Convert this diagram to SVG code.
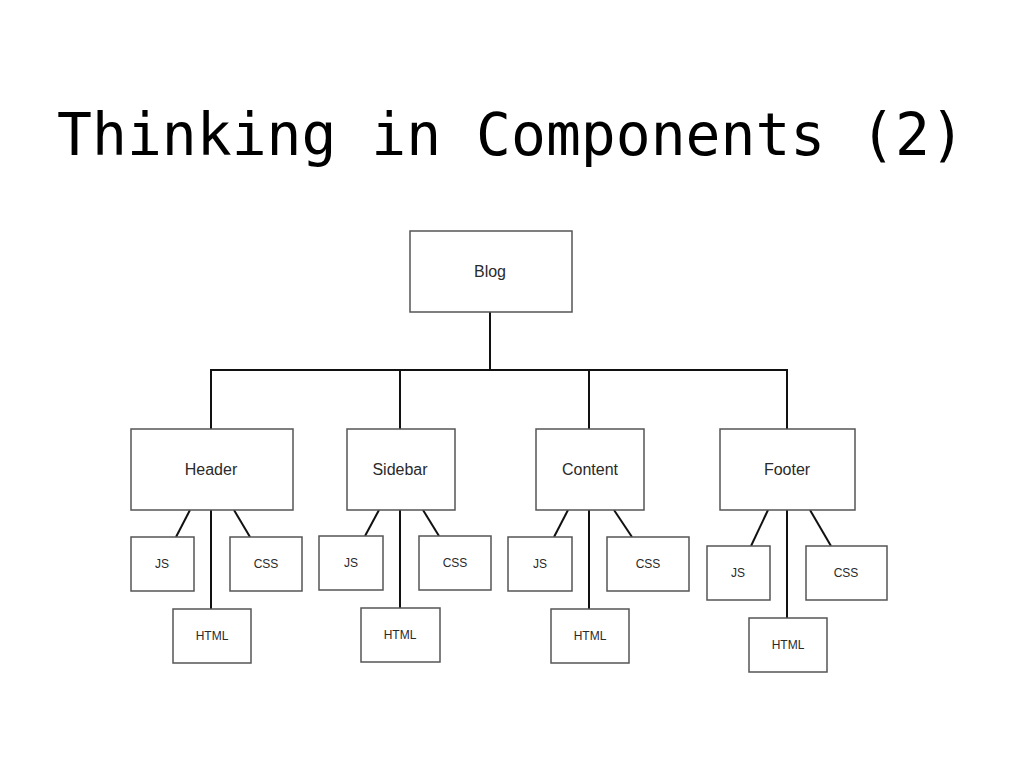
<svg xmlns="http://www.w3.org/2000/svg" width="1024" height="768" viewBox="0 0 1024 768">
<style>
.box{fill:#fff;stroke:#555;stroke-width:1.5}
.big{font-family:"Liberation Sans",Arial,sans-serif;font-size:16px;fill:#2a2a2a;text-anchor:middle}
.sm{font-family:"Liberation Sans",Arial,sans-serif;font-size:12px;fill:#2a2a2a;text-anchor:middle}
.title{font-family:"DejaVu Sans Mono","Liberation Mono",monospace;font-size:58px;fill:#000;text-anchor:middle}
#connectors line,#connectors path{stroke:#111;stroke-width:2;fill:none}
</style>
<rect width="1024" height="768" fill="#fff"/>
<text class="title" x="511" y="155">Thinking in Components (2)</text>
<g id="connectors">
<path d="M490 312V370M211 429V370H787V429M400 370V429M589 370V429"/>
<line x1="211" y1="510" x2="211" y2="609"/>
<line x1="190" y1="510" x2="176" y2="537"/>
<line x1="234" y1="510" x2="250" y2="537"/>
<line x1="400" y1="510" x2="400" y2="608"/>
<line x1="379" y1="510" x2="365" y2="536"/>
<line x1="423" y1="510" x2="439" y2="536"/>
<line x1="589" y1="510" x2="589" y2="609"/>
<line x1="568" y1="510" x2="554" y2="537"/>
<line x1="614" y1="510" x2="632" y2="537"/>
<line x1="787" y1="510" x2="787" y2="618"/>
<line x1="768" y1="510" x2="751" y2="546"/>
<line x1="810" y1="510" x2="831" y2="546"/>
</g>
<g id="blog"><rect class="box" x="410" y="231" width="162" height="81"/><text class="big" x="490" y="277">Blog</text></g>
<g id="header"><rect class="box" x="131" y="429" width="162" height="81"/><text class="big" x="211" y="475">Header</text></g>
<g id="header-js"><rect class="box" x="131" y="537" width="63" height="54"/><text class="sm" x="162" y="568">JS</text></g>
<g id="header-css"><rect class="box" x="230" y="537" width="72" height="54"/><text class="sm" x="266" y="568">CSS</text></g>
<g id="header-html"><rect class="box" x="173" y="609" width="78" height="54"/><text class="sm" x="212" y="640">HTML</text></g>
<g id="sidebar"><rect class="box" x="347" y="429" width="108" height="81"/><text class="big" x="400" y="475">Sidebar</text></g>
<g id="sidebar-js"><rect class="box" x="319" y="536" width="64" height="54"/><text class="sm" x="351" y="567">JS</text></g>
<g id="sidebar-css"><rect class="box" x="419" y="536" width="72" height="54"/><text class="sm" x="455" y="567">CSS</text></g>
<g id="sidebar-html"><rect class="box" x="361" y="608" width="79" height="54"/><text class="sm" x="400" y="639">HTML</text></g>
<g id="content"><rect class="box" x="536" y="429" width="108" height="81"/><text class="big" x="590" y="475">Content</text></g>
<g id="content-js"><rect class="box" x="508" y="537" width="64" height="54"/><text class="sm" x="540" y="568">JS</text></g>
<g id="content-css"><rect class="box" x="607" y="537" width="82" height="54"/><text class="sm" x="648" y="568">CSS</text></g>
<g id="content-html"><rect class="box" x="551" y="609" width="78" height="54"/><text class="sm" x="590" y="640">HTML</text></g>
<g id="footer"><rect class="box" x="720" y="429" width="135" height="81"/><text class="big" x="787" y="475">Footer</text></g>
<g id="footer-js"><rect class="box" x="707" y="546" width="63" height="54"/><text class="sm" x="738" y="577">JS</text></g>
<g id="footer-css"><rect class="box" x="806" y="546" width="81" height="54"/><text class="sm" x="846" y="577">CSS</text></g>
<g id="footer-html"><rect class="box" x="749" y="618" width="78" height="54"/><text class="sm" x="788" y="649">HTML</text></g>
</svg>
